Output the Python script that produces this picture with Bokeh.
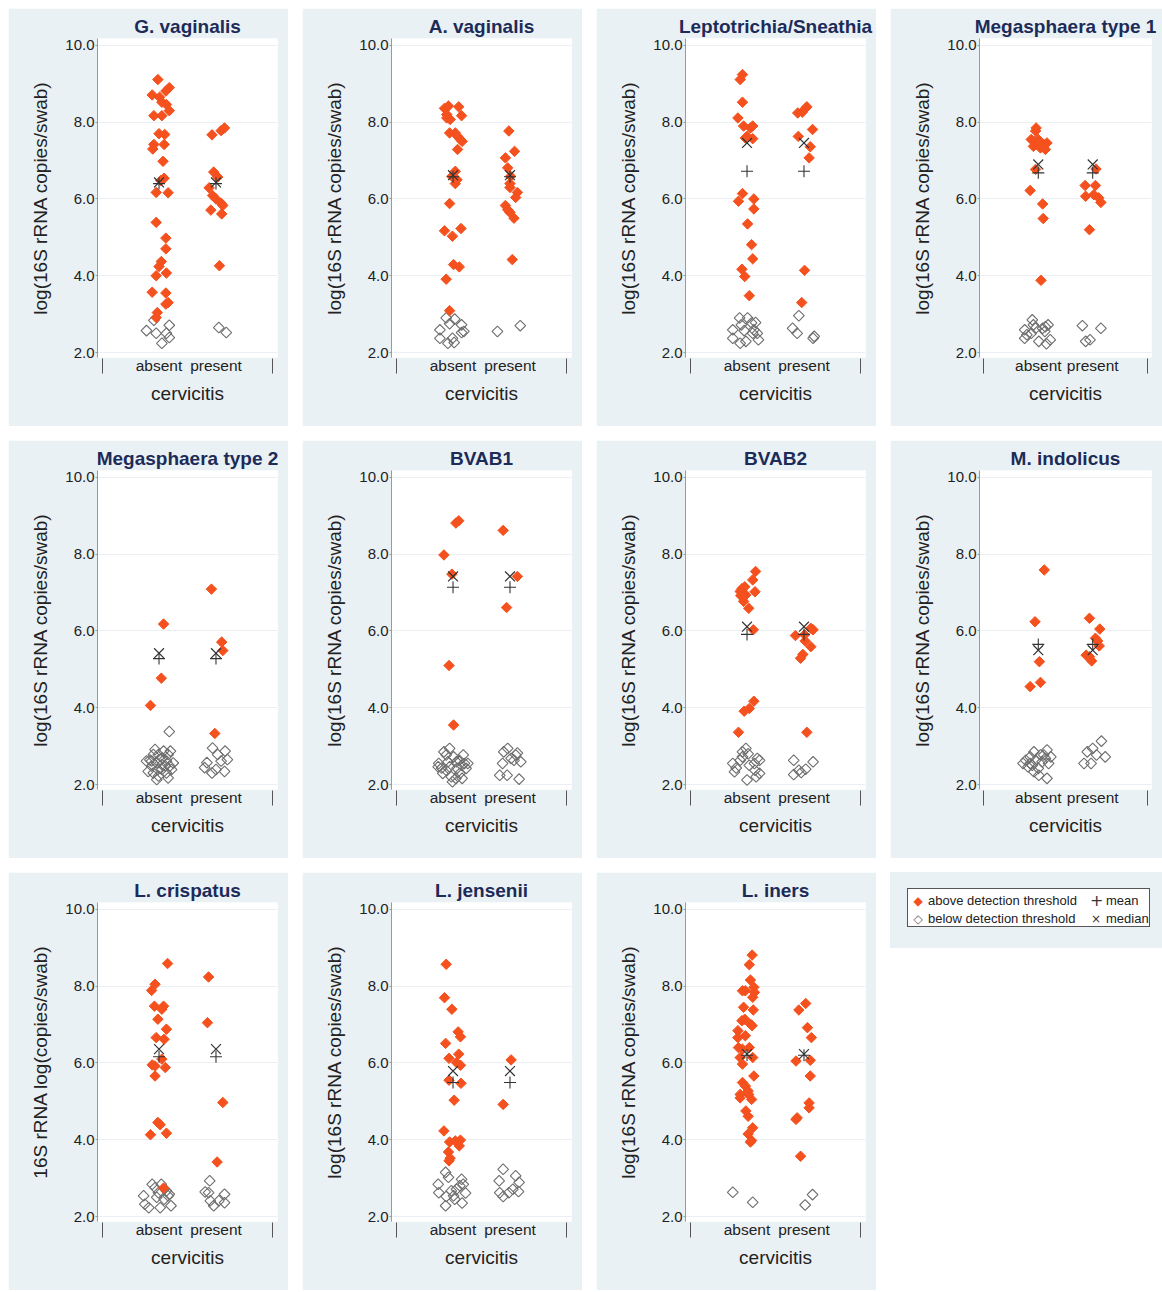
import math
from bokeh.plotting import figure
from bokeh.models import FixedTicker, PrintfTickFormatter, Div
from bokeh.layouts import row, column
from bokeh.embed import file_html
from bokeh.resources import INLINE

CATEGORIES = ["absent", "present"]
Y_TICKS = [2, 4, 6, 8, 10]
X_EDGE_TICKS = [0, 3]
YLAB = "log(16S rRNA copies/swab)"
YLAB_LC = "16S rRNA log(copies/swab)"
LEGEND_LABELS = ["above detection threshold", "below detection threshold", "mean", "median"]
LEGEND_SYMBOLS = ["\u25c6", "\u25c7", "+", "\u00d7"]

# ---------------- G. vaginalis ----------------
gv_abs_hi = [9.11, 8.71, 8.65, 8.90, 8.81, 8.52, 8.46, 8.30, 8.17, 8.17, 7.70, 7.68, 7.42, 7.30, 7.42, 6.98, 6.54, 6.48,
             6.17, 6.16, 5.39, 4.98, 4.70, 4.37, 4.24, 4.00, 4.07, 3.57, 3.55, 3.26, 3.30, 3.04, 2.91]
gv_abs_hi_j = [-0.02, -0.12, 0.01, 0.18, 0.12, 0.05, 0.13, 0.18, -0.09, 0.05, 0.00, 0.10, -0.09, -0.11, 0.09, 0.07, 0.09,
               0.03, -0.05, 0.16, -0.05, 0.12, 0.12, 0.04, 0.00, -0.05, 0.13, -0.12, 0.12, 0.12, 0.16, -0.03, -0.05]
gv_abs_lo = [2.57, 2.84, 2.50, 2.24, 2.71, 2.50, 2.39]
gv_abs_lo_j = [-0.22, -0.09, -0.05, 0.05, 0.18, 0.13, 0.18]
gv_pre_hi = [7.67, 7.78, 7.85, 6.70, 6.57, 6.29, 6.09, 6.00, 5.89, 5.83, 5.71, 5.61, 4.26]
gv_pre_hi_j = [-0.07, 0.09, 0.15, -0.04, 0.03, -0.12, -0.06, 0.00, 0.09, 0.12, -0.09, 0.10, 0.06]
gv_pre_lo = [2.65, 2.52]
gv_pre_lo_j = [0.05, 0.18]
gv_mean = [6.40, 6.40]
gv_median = [6.43, 6.43]

# ---------------- A. vaginalis ----------------
av_abs_hi = [8.36, 8.42, 8.40, 8.20, 8.11, 8.07, 8.17, 7.72, 7.72, 7.63, 7.55, 7.50, 7.29, 6.72, 6.59, 6.50, 6.40, 5.88,
             5.17, 5.03, 5.23, 4.29, 4.23, 3.91, 3.09]
av_abs_hi_j = [-0.15, -0.08, 0.10, -0.11, -0.11, -0.05, 0.15, -0.06, 0.04, 0.08, 0.13, 0.16, 0.08, 0.04, -0.02, 0.07, 0.04,
               -0.06, -0.15, -0.01, 0.14, 0.01, 0.11, -0.12, -0.06]
av_abs_lo = [2.59, 2.37, 2.90, 2.75, 2.87, 2.24, 2.37, 2.26, 2.72, 2.55, 2.52]
av_abs_lo_j = [-0.23, -0.23, -0.12, -0.06, 0.03, -0.09, -0.01, 0.02, 0.15, 0.19, 0.15]
av_pre_hi = [7.77, 7.07, 7.24, 6.81, 6.59, 6.40, 6.30, 6.17, 6.04, 5.83, 5.72, 5.65, 5.50, 4.42]
av_pre_hi_j = [-0.02, -0.08, 0.08, -0.04, 0.01, 0.00, 0.00, 0.13, 0.10, -0.08, -0.04, 0.00, 0.07, 0.04]
av_pre_lo = [2.55, 2.70]
av_pre_lo_j = [-0.22, 0.18]
av_mean = [6.58, 6.58]
av_median = [6.62, 6.62]

# ---------------- Leptotrichia/Sneathia ----------------
ls_abs_hi = [9.24, 9.11, 8.52, 8.11, 7.90, 7.85, 7.90, 7.63, 7.59, 7.57, 6.14, 5.94, 6.00, 5.74, 5.35, 4.81, 4.44, 4.17,
             3.98, 3.48]
ls_abs_hi_j = [-0.08, -0.12, -0.08, -0.16, -0.06, 0.06, 0.10, 0.00, -0.03, 0.10, -0.08, -0.15, 0.12, 0.12, 0.01, 0.08,
               0.10, -0.09, -0.04, 0.04]
ls_abs_lo = [2.59, 2.37, 2.90, 2.72, 2.24, 2.90, 2.29, 2.77, 2.78, 2.59, 2.50, 2.33, 2.50, 2.57]
ls_abs_lo_j = [-0.25, -0.25, -0.13, -0.10, -0.12, 0.01, -0.02, 0.08, 0.15, 0.12, 0.18, 0.20, 0.10, -0.05]
ls_pre_hi = [8.24, 8.26, 8.35, 8.40, 7.81, 7.63, 7.36, 7.07, 4.14, 3.30]
ls_pre_hi_j = [-0.11, -0.03, 0.02, 0.05, 0.15, -0.10, 0.11, 0.09, 0.01, -0.04]
ls_pre_lo = [2.96, 2.63, 2.50, 2.42, 2.37]
ls_pre_lo_j = [-0.09, -0.20, -0.12, 0.18, 0.16]
ls_mean = [6.72, 6.72]
ls_median = [7.46, 7.46]

# ---------------- Megasphaera type 1 ----------------
m1_abs_hi = [7.85, 7.77, 7.55, 7.50, 7.55, 7.46, 7.42, 7.29, 7.37, 7.33, 7.46, 7.42, 6.77, 6.22, 5.87, 5.49, 3.88]
m1_abs_hi_j = [-0.04, -0.05, -0.13, -0.06, 0.00, 0.04, 0.10, 0.13, -0.09, 0.04, 0.16, -0.02, -0.05, -0.15, 0.08, 0.09, 0.05]
m1_abs_lo = [2.59, 2.46, 2.50, 2.85, 2.72, 2.63, 2.29, 2.63, 2.67, 2.72, 2.23, 2.33, 2.37, 2.55]
m1_abs_lo_j = [-0.25, -0.21, -0.13, -0.11, -0.09, -0.05, 0.01, 0.08, 0.13, 0.18, 0.15, 0.22, -0.25, 0.12]
m1_pre_hi = [6.78, 6.35, 6.35, 6.07, 6.11, 6.03, 5.91, 5.20]
m1_pre_hi_j = [0.06, -0.14, 0.05, -0.13, 0.02, 0.11, 0.15, -0.06]
m1_pre_lo = [2.70, 2.29, 2.33, 2.63]
m1_pre_lo_j = [-0.19, -0.13, -0.05, 0.15]
m1_mean = [6.68, 6.68]
m1_median = [6.90, 6.90]

# ---------------- Megasphaera type 2 ----------------
m2_abs_hi = [6.18, 4.77, 4.06]
m2_abs_hi_j = [0.08, 0.04, -0.15]
m2_abs_lo = [3.38, 2.61, 2.48, 2.56, 2.52, 2.61, 2.48, 2.91, 2.78, 2.87, 2.78, 2.64, 2.30, 2.22, 2.13, 2.34, 2.39, 2.30,
             2.17, 2.39, 2.56, 2.78, 2.65, 2.48, 2.61, 2.39, 2.87, 2.69]
m2_abs_lo_j = [0.18, -0.22, -0.13, -0.04, 0.05, 0.13, 0.19, -0.07, -0.01, 0.08, 0.16, -0.16, -0.10, -0.01, -0.04, -0.19,
               0.05, 0.13, 0.16, 0.22, 0.25, -0.10, 0.02, 0.11, -0.13, -0.02, 0.20, 0.06]
m2_pre_hi = [7.09, 5.71, 5.49, 3.33]
m2_pre_hi_j = [-0.08, 0.10, 0.12, -0.02]
m2_pre_lo = [2.95, 2.57, 2.44, 2.78, 2.87, 2.61, 2.65, 2.30, 2.39, 2.34]
m2_pre_lo_j = [-0.06, -0.16, -0.20, 0.03, 0.16, 0.09, 0.20, -0.07, 0.00, 0.15]
m2_mean = [5.28, 5.28]
m2_median = [5.42, 5.42]

# ---------------- BVAB1 ----------------
b1_abs_hi = [8.81, 8.87, 7.98, 7.48, 5.10, 3.55]
b1_abs_hi_j = [0.05, 0.10, -0.16, -0.02, -0.07, 0.01]
b1_abs_lo = [2.55, 2.43, 2.29, 2.77, 2.59, 2.94, 2.20, 2.07, 2.72, 2.59, 2.42, 2.29, 2.16, 2.77, 2.55, 2.42, 2.50, 2.37,
             2.85, 2.16, 2.46, 2.63, 2.55, 2.46]
b1_abs_lo_j = [-0.25, -0.20, -0.18, -0.12, -0.09, -0.06, -0.03, -0.01, 0.01, 0.06, 0.07, 0.12, 0.16, 0.18, 0.20, 0.23,
               0.15, -0.12, -0.16, 0.05, -0.06, 0.11, 0.26, -0.26]
b1_pre_hi = [8.62, 7.42, 6.61]
b1_pre_hi_j = [-0.12, 0.13, -0.06]
b1_pre_lo = [2.24, 2.24, 2.55, 2.85, 2.94, 2.68, 2.77, 2.82, 2.59, 2.14, 2.63]
b1_pre_lo_j = [-0.18, -0.05, -0.13, -0.11, -0.04, 0.02, 0.10, 0.13, 0.19, 0.16, 0.07]
b1_mean = [7.14, 7.14]
b1_median = [7.42, 7.42]

# ---------------- BVAB2 ----------------
b2_abs_hi = [7.55, 7.33, 7.10, 7.15, 7.03, 6.92, 6.77, 6.94, 7.02, 6.59, 6.03, 4.17, 3.98, 3.91, 3.36]
b2_abs_hi_j = [0.15, 0.10, -0.09, -0.04, -0.12, -0.11, -0.06, -0.02, 0.14, 0.03, 0.11, 0.12, 0.04, -0.05, -0.15]
b2_abs_lo = [2.55, 2.43, 2.33, 2.63, 2.85, 2.72, 2.94, 2.80, 2.12, 2.50, 2.55, 2.68, 2.63, 2.20, 2.29, 2.37]
b2_abs_lo_j = [-0.25, -0.19, -0.22, -0.12, -0.08, -0.08, -0.02, 0.02, 0.00, 0.04, 0.13, 0.18, 0.22, 0.16, 0.22, 0.14]
b2_pre_hi = [5.88, 5.90, 6.07, 6.03, 5.74, 5.39, 5.29, 5.59, 3.36]
b2_pre_hi_j = [-0.15, 0.01, 0.12, 0.16, 0.02, -0.02, -0.06, 0.12, 0.05]
b2_pre_lo = [2.63, 2.26, 2.37, 2.31, 2.40, 2.59]
b2_pre_lo_j = [-0.18, -0.18, -0.09, -0.05, 0.03, 0.16]
b2_mean = [5.91, 5.91]
b2_median = [6.11, 6.11]

# ---------------- M. indolicus ----------------
mi_abs_hi = [7.59, 6.24, 5.20, 4.66, 4.55]
mi_abs_hi_j = [0.11, -0.06, 0.02, 0.04, -0.15]
mi_abs_lo = [2.55, 2.63, 2.46, 2.72, 2.50, 2.85, 2.63, 2.42, 2.24, 2.59, 2.77, 2.68, 2.90, 2.55, 2.72, 2.16, 2.55, 2.77, 2.33]
mi_abs_lo_j = [-0.28, -0.23, -0.19, -0.15, -0.11, -0.08, -0.05, 0.00, 0.01, 0.07, 0.10, 0.13, 0.16, 0.19, 0.23, 0.16,
               -0.15, 0.04, -0.08]
mi_pre_hi = [6.33, 6.05, 5.74, 5.61, 5.37, 5.33, 5.22, 5.81]
mi_pre_hi_j = [-0.06, 0.13, 0.09, 0.12, -0.12, -0.06, -0.02, 0.05]
mi_pre_lo = [2.55, 2.55, 2.85, 2.94, 3.13, 2.72, 2.77]
mi_pre_lo_j = [-0.16, -0.03, -0.10, 0.00, 0.16, 0.23, 0.07]
mi_mean = [5.65, 5.65]
mi_median = [5.50, 5.50]

# ---------------- L. crispatus ----------------
lc_abs_hi = [8.59, 8.05, 7.89, 7.48, 7.48, 7.40, 7.14, 6.88, 6.66, 6.62, 6.10, 5.95, 5.92, 5.88, 5.66, 4.45, 4.39, 4.17,
             4.13, 2.74]
lc_abs_hi_j = [0.15, -0.07, -0.13, -0.08, 0.08, 0.05, -0.02, 0.13, -0.05, 0.09, 0.05, -0.12, -0.07, 0.11, -0.07, -0.02,
               0.02, 0.13, -0.15, 0.08]
lc_abs_lo = [2.54, 2.32, 2.23, 2.84, 2.75, 2.62, 2.84, 2.50, 2.23, 2.54, 2.58, 2.28, 2.67, 2.45]
lc_abs_lo_j = [-0.27, -0.25, -0.18, -0.12, -0.07, -0.01, 0.04, -0.04, 0.02, 0.16, 0.18, 0.21, 0.13, 0.09]
lc_pre_hi = [8.24, 7.05, 4.97, 3.42]
lc_pre_hi_j = [-0.13, -0.15, 0.12, 0.02]
lc_pre_lo = [2.93, 2.64, 2.62, 2.41, 2.28, 2.41, 2.36, 2.58]
lc_pre_lo_j = [-0.11, -0.19, -0.13, -0.10, -0.04, 0.05, 0.15, 0.15]
lc_mean = [6.16, 6.16]
lc_median = [6.36, 6.36]

# ---------------- L. jensenii ----------------
lj_abs_hi = [8.57, 7.70, 7.40, 6.81, 6.68, 6.51, 6.23, 6.12, 6.01, 5.94, 5.55, 5.47, 5.03, 4.23, 3.94, 3.97, 3.99, 3.84,
             3.68, 3.52, 3.45]
lj_abs_hi_j = [-0.12, -0.15, -0.02, 0.09, 0.13, -0.13, 0.10, -0.07, 0.06, 0.13, -0.07, 0.14, 0.02, -0.16, -0.06, 0.04,
               0.13, 0.11, -0.08, -0.05, -0.07]
lj_abs_lo = [2.84, 2.62, 3.15, 3.02, 2.52, 2.28, 2.67, 2.54, 2.71, 2.97, 2.84, 2.61, 2.35, 2.80, 2.45]
lj_abs_lo_j = [-0.26, -0.25, -0.13, -0.08, -0.12, -0.13, -0.03, 0.01, 0.06, 0.15, 0.18, 0.22, 0.16, 0.12, 0.03]
lj_pre_hi = [6.08, 4.92]
lj_pre_hi_j = [0.02, -0.12]
lj_pre_lo = [2.93, 3.23, 2.62, 2.52, 2.62, 2.71, 3.06, 2.89, 2.65]
lj_pre_lo_j = [-0.19, -0.12, -0.18, -0.12, -0.02, 0.05, 0.10, 0.16, 0.15]
lj_mean = [5.49, 5.49]
lj_median = [5.79, 5.79]

# ---------------- L. iners ----------------
li_abs_hi = [8.81, 8.56, 8.16, 7.88, 7.88, 7.97, 7.84, 7.71, 7.45, 7.38, 7.10, 7.14, 7.01, 6.84, 6.66, 6.71, 6.97, 6.40,
             6.36, 6.40, 6.14, 6.14, 5.97, 5.66, 5.49, 5.40, 5.27, 5.18, 5.18, 5.05, 5.09, 4.75, 4.61, 4.31, 4.15, 3.98, 3.94]
li_abs_hi_j = [0.09, 0.04, 0.06, -0.08, -0.03, 0.12, 0.13, 0.10, -0.06, 0.11, -0.09, -0.04, 0.06, -0.16, -0.16, -0.03,
               0.09, -0.15, -0.08, 0.04, 0.10, -0.12, -0.08, 0.12, -0.08, -0.03, 0.02, -0.12, 0.03, 0.08, -0.12, -0.02,
               0.02, 0.10, 0.02, 0.08, 0.06]
li_abs_lo = [2.63, 2.37]
li_abs_lo_j = [-0.25, 0.10]
li_pre_hi = [7.55, 7.38, 6.92, 6.66, 6.05, 6.07, 5.66, 4.96, 4.83, 4.57, 4.53, 3.57]
li_pre_hi_j = [0.03, -0.09, 0.06, 0.13, -0.14, 0.11, 0.11, 0.09, 0.09, -0.12, -0.14, -0.06]
li_pre_lo = [2.30, 2.57]
li_pre_lo_j = [0.02, 0.15]
li_mean = [6.20, 6.20]
li_median = [6.23, 6.23]

# ---------------- styling ----------------
BG = "#eaf1f4"
NAVY = "#1c2b58"
ORANGE = "#f4511e"
HOLLOW = "#6e6e6e"
STAT = "#333333"
FONT = "Liberation Sans"
W, W4, H, HLEG = 280, 272, 418, 76


def cat_x(cat_index, jitter):
    return [cat_index + 1 + j for j in jitter]


def make_panel(title, ylab, ah, ahj, al, alj, ph, phj, pl, plj, means, medians, width):
    assert len(ah) == len(ahj) and len(al) == len(alj) and len(ph) == len(phj) and len(pl) == len(plj)
    p = figure(width=width, height=H, x_range=(-0.08, 3.08), y_range=(1.87, 10.18),
               output_backend="svg", toolbar_location=None,
               min_border_left=89, min_border_right=11, min_border_top=30, min_border_bottom=69)
    p.border_fill_color = BG
    p.background_fill_color = "white"
    p.outline_line_color = None

    p.title.text = title
    p.title.align = "center"
    p.title.text_font = FONT
    p.title.text_font_size = "19px"
    p.title.text_font_style = "bold"
    p.title.text_color = NAVY
    p.title.standoff = 4

    p.xgrid.visible = False
    p.ygrid.ticker = FixedTicker(ticks=Y_TICKS)
    p.ygrid.grid_line_color = "#e9eff2"

    ya = p.yaxis[0]
    ya.ticker = FixedTicker(ticks=Y_TICKS)
    ya.formatter = PrintfTickFormatter(format="%.1f")
    ya.axis_label = ylab
    ya.axis_label_text_font = FONT
    ya.axis_label_text_font_size = "19px"
    ya.axis_label_text_font_style = "normal"
    ya.axis_label_text_color = "#222222"
    ya.axis_label_standoff = 11
    ya.major_label_text_font = FONT
    ya.major_label_text_font_size = "15px"
    ya.major_label_text_color = "#222222"
    ya.major_label_standoff = 1
    ya.axis_line_color = "#9a9a9a"
    ya.major_tick_line_color = "#9a9a9a"
    ya.major_tick_out = 2
    ya.major_tick_in = 0
    ya.minor_tick_line_color = None

    xa = p.xaxis[0]
    xa.ticker = FixedTicker(ticks=[i + 1 for i in range(len(CATEGORIES))], minor_ticks=X_EDGE_TICKS)
    xa.major_label_overrides = {i + 1: c for i, c in enumerate(CATEGORIES)}
    xa.axis_line_color = None
    xa.major_tick_line_color = None
    xa.major_tick_out = 0
    xa.major_tick_in = 0
    xa.minor_tick_line_color = "#555555"
    xa.minor_tick_out = 16
    xa.minor_tick_in = -1
    xa.major_label_standoff = -17
    xa.major_label_text_font = FONT
    xa.major_label_text_font_size = "15.5px"
    xa.major_label_text_color = "#222222"
    xa.axis_label = "cervicitis"
    xa.axis_label_text_font = FONT
    xa.axis_label_text_font_size = "19px"
    xa.axis_label_text_font_style = "normal"
    xa.axis_label_text_color = "#222222"
    xa.axis_label_standoff = 6

    # below detection threshold (hollow)
    p.scatter(cat_x(0, alj) + cat_x(1, plj), al + pl, marker="square", angle=math.pi / 4, size=7.6,
              fill_alpha=0, line_color=HOLLOW, line_width=1.1)
    # above detection threshold (filled)
    p.scatter(cat_x(0, ahj) + cat_x(1, phj), ah + ph, marker="square", angle=math.pi / 4, size=7.4,
              fill_color=ORANGE, line_color=ORANGE, line_width=1)
    xs = [i + 1 for i in range(len(CATEGORIES))]
    p.scatter(xs, means, marker="cross", size=12, line_color=STAT, line_width=1.1)
    p.scatter(xs, medians, marker="x", size=14, line_color=STAT, line_width=1.2)
    return p


def make_key(width, height):
    sym_colors = [ORANGE, HOLLOW, STAT, STAT]
    sym_sizes = ["12px", "12px", "16px", "12px"]
    lefts = [4, 4, 182, 182]
    tops = [3, 21, 3, 21]
    items = []
    for lab, sym, col, sz, lx, ty in zip(LEGEND_LABELS, LEGEND_SYMBOLS, sym_colors, sym_sizes, lefts, tops):
        items.append(
            f'<div style="position:absolute;left:{lx}px;top:{ty}px;height:18px;white-space:nowrap;">'
            f'<span style="position:absolute;left:0px;top:0px;width:12px;height:18px;line-height:18px;'
            f'text-align:center;color:{col};font-size:{sz};font-family:\'DejaVu Sans\',sans-serif;">{sym}</span>'
            f'<span style="position:absolute;left:16px;top:0px;height:18px;line-height:18px;">{lab}</span></div>'
        )
    html = (
        f'<div style="position:relative;width:{width}px;height:{height}px;background:{BG};">'
        f'<div style="position:absolute;left:17px;top:16px;width:243px;height:39px;background:white;'
        f'border:1px solid #555555;font-family:\'{FONT}\',sans-serif;font-size:13px;color:#222222;">'
        + "".join(items) + '</div></div>'
    )
    return Div(text=html, width=width, height=height, margin=0)


p1 = make_panel("G. vaginalis", YLAB, gv_abs_hi, gv_abs_hi_j, gv_abs_lo, gv_abs_lo_j, gv_pre_hi, gv_pre_hi_j,
                gv_pre_lo, gv_pre_lo_j, gv_mean, gv_median, W)
p2 = make_panel("A. vaginalis", YLAB, av_abs_hi, av_abs_hi_j, av_abs_lo, av_abs_lo_j, av_pre_hi, av_pre_hi_j,
                av_pre_lo, av_pre_lo_j, av_mean, av_median, W)
p3 = make_panel("Leptotrichia/Sneathia", YLAB, ls_abs_hi, ls_abs_hi_j, ls_abs_lo, ls_abs_lo_j, ls_pre_hi, ls_pre_hi_j,
                ls_pre_lo, ls_pre_lo_j, ls_mean, ls_median, W)
p4 = make_panel("Megasphaera type 1", YLAB, m1_abs_hi, m1_abs_hi_j, m1_abs_lo, m1_abs_lo_j, m1_pre_hi, m1_pre_hi_j,
                m1_pre_lo, m1_pre_lo_j, m1_mean, m1_median, W4)
p5 = make_panel("Megasphaera type 2", YLAB, m2_abs_hi, m2_abs_hi_j, m2_abs_lo, m2_abs_lo_j, m2_pre_hi, m2_pre_hi_j,
                m2_pre_lo, m2_pre_lo_j, m2_mean, m2_median, W)
p6 = make_panel("BVAB1", YLAB, b1_abs_hi, b1_abs_hi_j, b1_abs_lo, b1_abs_lo_j, b1_pre_hi, b1_pre_hi_j,
                b1_pre_lo, b1_pre_lo_j, b1_mean, b1_median, W)
p7 = make_panel("BVAB2", YLAB, b2_abs_hi, b2_abs_hi_j, b2_abs_lo, b2_abs_lo_j, b2_pre_hi, b2_pre_hi_j,
                b2_pre_lo, b2_pre_lo_j, b2_mean, b2_median, W)
p8 = make_panel("M. indolicus", YLAB, mi_abs_hi, mi_abs_hi_j, mi_abs_lo, mi_abs_lo_j, mi_pre_hi, mi_pre_hi_j,
                mi_pre_lo, mi_pre_lo_j, mi_mean, mi_median, W4)
p9 = make_panel("L. crispatus", YLAB_LC, lc_abs_hi, lc_abs_hi_j, lc_abs_lo, lc_abs_lo_j, lc_pre_hi, lc_pre_hi_j,
                lc_pre_lo, lc_pre_lo_j, lc_mean, lc_median, W)
p10 = make_panel("L. jensenii", YLAB, lj_abs_hi, lj_abs_hi_j, lj_abs_lo, lj_abs_lo_j, lj_pre_hi, lj_pre_hi_j,
                 lj_pre_lo, lj_pre_lo_j, lj_mean, lj_median, W)
p11 = make_panel("L. iners", YLAB, li_abs_hi, li_abs_hi_j, li_abs_lo, li_abs_lo_j, li_pre_hi, li_pre_hi_j,
                 li_pre_lo, li_pre_lo_j, li_mean, li_median, W)
key = make_key(W4, HLEG)

layout = column(
    row(p1, p2, p3, p4, spacing=14),
    row(p5, p6, p7, p8, spacing=14),
    row(p9, p10, p11, key, spacing=14),
    spacing=14,
    margin=(8, 0, 0, 8),
)

open("out.html", "w").write(file_html(layout, INLINE))
